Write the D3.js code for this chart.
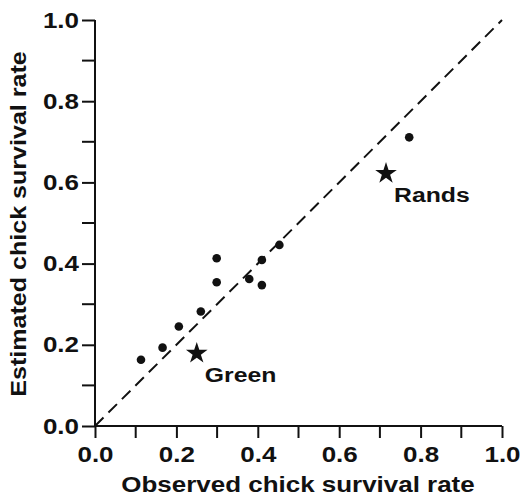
<!DOCTYPE html>
<html>
<head>
<meta charset="utf-8">
<script src="https://cdn.jsdelivr.net/npm/d3@7"></script>
<style>
  body { margin: 0; background: #fff; }
  text { font-family: "Liberation Sans", Arial, sans-serif; font-weight: bold; fill: #111; }
</style>
</head>
<body>
<div id="chart"></div>
<script>
// observed vs estimated survival, one point per site
var observed  = [0.113, 0.166, 0.206, 0.260, 0.299, 0.299, 0.379, 0.410, 0.410, 0.453, 0.772];
var estimated = [0.163, 0.193, 0.245, 0.282, 0.413, 0.354, 0.362, 0.409, 0.347, 0.446, 0.711];

// named sites shown as stars
var siteNames    = ["Green", "Rands"];
var siteObserved = [0.250, 0.715];
var siteEstimate = [0.179, 0.622];

var majorTicks = [0, 0.2, 0.4, 0.6, 0.8, 1.0];
var minorTicks = [0.1, 0.3, 0.5, 0.7, 0.9];

var margin = {top: 20, right: 20, bottom: 73, left: 95},
    width = 407,
    height = 406;

// text in the scan is a bit wider than Arial
var stretch = 1.18;

var svg = d3.select("#chart").append("svg")
    .attr("width", 522)
    .attr("height", 499);

var g = svg.append("g")
    .attr("transform", "translate(" + margin.left + "," + margin.top + ")");

var x = d3.scaleLinear().domain([0, 1]).range([0, width]);
var y = d3.scaleLinear().domain([0, 1]).range([height, 0]);

var fmt = d3.format(".1f");

// axes
var xAxis = d3.axisBottom(x).tickValues(majorTicks).tickFormat(fmt).tickSize(12).tickPadding(8);
var yAxis = d3.axisLeft(y).tickValues(majorTicks).tickFormat(fmt).tickSize(13).tickPadding(3);

function styleAxis(sel) {
    sel.select(".domain").remove();
    sel.selectAll("line").attr("stroke", "#111").attr("stroke-width", 2);
    sel.selectAll("text")
        .style("font-size", "22px")
        .attr("fill", "#111")
        .each(function() {
            var t = d3.select(this);
            var tx = +t.attr("x") || 0;
            t.attr("x", 0).attr("transform", "translate(" + tx + ",0) scale(" + stretch + ",1)");
        });
}

var gx = g.append("g")
    .attr("transform", "translate(0," + height + ")")
    .call(xAxis)
    .call(styleAxis);
gx.selectAll(".minor").data(minorTicks).enter().append("line")
    .attr("x1", function(d) { return x(d); })
    .attr("x2", function(d) { return x(d); })
    .attr("y1", 0).attr("y2", 12)
    .attr("stroke", "#111").attr("stroke-width", 2);

var gy = g.append("g")
    .call(yAxis)
    .call(styleAxis);
gy.selectAll(".minor").data(minorTicks).enter().append("line")
    .attr("y1", function(d) { return y(d); })
    .attr("y2", function(d) { return y(d); })
    .attr("x1", 0).attr("x2", -13)
    .attr("stroke", "#111").attr("stroke-width", 2);

// axis lines
g.append("line").attr("x1", 0).attr("x2", x(1)).attr("y1", y(0)).attr("y2", y(0))
    .attr("stroke", "#111").attr("stroke-width", 2);
g.append("line").attr("x1", 0).attr("x2", 0).attr("y1", y(0)).attr("y2", y(1))
    .attr("stroke", "#111").attr("stroke-width", 2);

// 1:1 line
g.append("line")
    .attr("x1", x(0)).attr("y1", y(0))
    .attr("x2", x(1)).attr("y2", y(1))
    .attr("stroke", "#111")
    .attr("stroke-width", 2)
    .attr("stroke-dasharray", "12,7");

// points
g.selectAll(".dot")
    .data(observed)
    .enter().append("circle")
    .attr("class", "dot")
    .attr("cx", function(d) { return x(d); })
    .attr("cy", function(d, i) { return y(estimated[i]); })
    .attr("r", 4.3)
    .attr("fill", "#111");

// stars
var star = d3.symbol().type(d3.symbolStar).size(145);
g.selectAll(".star")
    .data(siteNames)
    .enter().append("path")
    .attr("class", "star")
    .attr("d", star)
    .attr("transform", function(d, i) {
        return "translate(" + x(siteObserved[i]) + "," + y(siteEstimate[i]) + ")";
    })
    .attr("fill", "#111");

g.selectAll(".site-label")
    .data(siteNames)
    .enter().append("text")
    .attr("class", "site-label")
    .attr("transform", function(d, i) {
        return "translate(" + (x(siteObserved[i]) + 8) + "," + (y(siteEstimate[i]) + 29) + ") scale(" + stretch + ",1)";
    })
    .style("font-size", "21px")
    .text(function(d) { return d; });

// axis titles
svg.append("text")
    .attr("transform", "translate(298,492) scale(" + stretch + ",1)")
    .attr("text-anchor", "middle")
    .style("font-size", "22px")
    .text("Observed chick survival rate");

svg.append("text")
    .attr("transform", "translate(26,224) rotate(-90) scale(1.14,1)")
    .attr("text-anchor", "middle")
    .style("font-size", "22px")
    .text("Estimated chick survival rate");
</script>
</body>
</html>
